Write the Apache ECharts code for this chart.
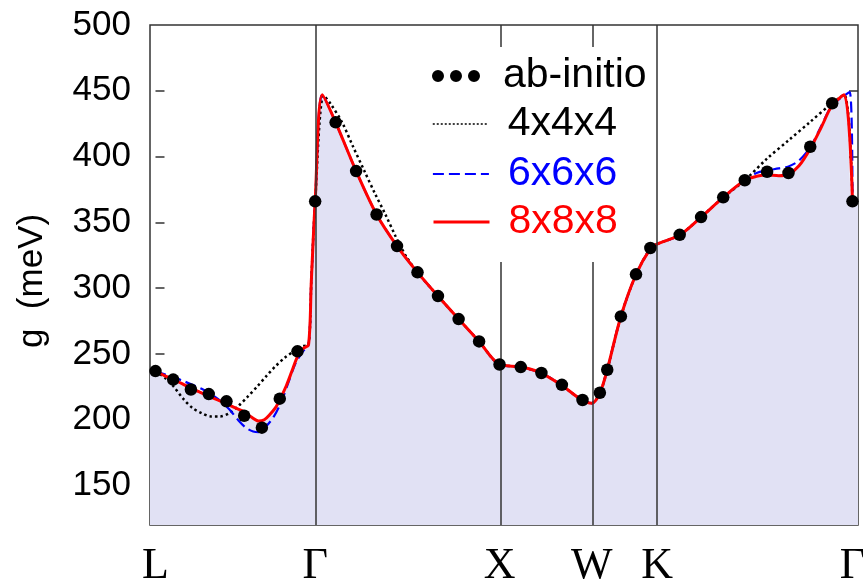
<!DOCTYPE html>
<html>
<head>
<meta charset="utf-8">
<title>g (meV) along L-Γ-X-W-K-Γ</title>
<script src="https://cdn.jsdelivr.net/npm/echarts@6/dist/echarts.min.js"></script>
<style>
  html, body { margin: 0; padding: 0; background: #fff; }
  #chart { width: 863px; height: 580px; }
</style>
</head>
<body>
<div id="chart"></div>
<script>
// High-symmetry points along the k-path (path length units)
const kTicks = [0, 0.866, 1.866, 2.366, 2.720, 3.780];
const kNames = ['L', 'Γ', 'X', 'W', 'K', 'Γ'];
const yTickValues = [150, 200, 250, 300, 350, 400, 450];
const yLabelValues = [150, 200, 250, 300, 350, 400, 450, 500];
const yTitle = 'g  (meV)';

// ab-initio points
const abK = [0.000, 0.096, 0.192, 0.289, 0.385, 0.481, 0.577, 0.674, 0.770, 0.866,
             0.977, 1.088, 1.199, 1.310, 1.421, 1.532, 1.644, 1.755, 1.866,
             1.981, 2.093, 2.204, 2.316, 2.410, 2.450, 2.524, 2.606, 2.684,
             2.843, 2.959, 3.079, 3.196, 3.317, 3.433, 3.551, 3.670, 3.780];
const abG = [237, 230.5, 223, 219.5, 214, 203, 194, 216, 252, 366,
             426, 389, 356, 332, 312, 294, 276.5, 259.5, 242,
             240, 235.5, 226.5, 215, 220.5, 238, 278.5, 310.5, 330.5,
             340.5, 354, 369, 382, 388.5, 387.5, 407.5, 440.5, 366];

// 8x8x8 interpolation
const k888 = [0, 0.048, 0.096, 0.144, 0.192, 0.240, 0.289, 0.337, 0.385, 0.433, 0.481, 0.52, 0.559, 0.59, 0.62, 0.65, 0.677, 0.71, 0.74, 0.77, 0.80, 0.83, 0.845, 0.866, 0.905,
              0.977, 1.088, 1.199, 1.310, 1.421, 1.532, 1.644, 1.755, 1.866,
              1.977, 2.088, 2.199, 2.310, 2.366, 2.410, 2.450, 2.524, 2.606, 2.684, 2.720,
              2.843, 2.959, 3.079, 3.196, 3.26, 3.317, 3.38, 3.433, 3.49, 3.551, 3.61, 3.670, 3.735, 3.780];
const g888 = [237, 233.5, 230.5, 227.5, 224, 221, 218, 215, 212, 209, 206, 202, 199, 200, 204, 209, 216, 226, 237, 248, 254, 257, 305, 366, 447,
              426, 389, 356, 332, 312, 294, 276.5, 259.5, 242,
              240.2, 235.7, 226.6, 215.2, 212.6, 220.3, 238, 278.5, 310.4, 330.1, 333.5,
              340.4, 354, 369, 382, 385, 386, 385.5, 386.5, 393, 406, 422, 439, 447, 366];

// 6x6x6 interpolation
const k666 = [0, 0.05, 0.1, 0.15, 0.2, 0.25, 0.3, 0.35, 0.4, 0.45, 0.49, 0.53, 0.56, 0.6, 0.64, 0.68, 0.72, 0.76, 0.8, 0.83, 0.845, 0.866, 0.905,
              0.977, 1.088, 1.199, 1.310, 1.421, 1.532, 1.644, 1.755, 1.866,
              1.977, 2.088, 2.199, 2.310, 2.366, 2.410, 2.450, 2.524, 2.606, 2.684, 2.720,
              2.843, 2.959, 3.079, 3.196, 3.26, 3.317, 3.38, 3.433, 3.49, 3.551, 3.61, 3.670, 3.765, 3.780];
const g666 = [237, 234.5, 232, 229.5, 226.5, 223.5, 219.5, 214.5, 208, 199.5, 194, 191, 190.5, 195, 202, 213, 228, 243, 252, 257, 305, 366, 447,
              426, 389, 356, 332, 312, 294, 276.5, 259.5, 242,
              240.2, 235.7, 226.6, 215.2, 212.6, 220.3, 238, 278.5, 310.4, 330.1, 333.5,
              340.4, 354, 369, 382, 387.5, 389.5, 391, 392.5, 397, 407, 423, 439, 449, 366];

// 4x4x4 interpolation
const k444 = [0, 0.05, 0.1, 0.15, 0.2, 0.25, 0.3, 0.35, 0.4, 0.45, 0.5, 0.55, 0.6, 0.65, 0.7, 0.75, 0.8, 0.83, 0.845, 0.866, 0.912,
              0.95, 1.012, 1.07, 1.133, 1.19, 1.247, 1.3, 1.329, 1.36, 1.421, 1.532, 1.644, 1.755, 1.866,
              1.977, 2.088, 2.199, 2.310, 2.366, 2.410, 2.450, 2.524, 2.606, 2.684, 2.720,
              2.843, 2.959, 3.079, 3.196, 3.317, 3.433, 3.551, 3.656, 3.735, 3.780];
const g444 = [237, 232, 225, 216, 209, 205, 202.5, 202.5, 205, 210.5, 217.5, 225, 233, 240.5, 247, 252, 256, 257, 305, 366, 446.5,
              440, 426, 408, 389, 372, 356, 340, 332, 324, 312, 294, 276.5, 259.5, 242,
              240.2, 235.7, 226.6, 215.2, 212.6, 220.3, 238, 278.5, 310.4, 330.1, 333.5,
              340.4, 354, 369, 382, 398.5, 412.3, 426.4, 439, 447, 366];

const xMin = -0.0298, xMax = 3.810;
const pairs = (ks, gs) => ks.map((k, i) => [k, gs[i]]);
// shaded region under the 8x8x8 curve, carried out to the frame on both sides
const fillPts = [[xMin, g888[0]]].concat(pairs(k888, g888), [[xMax, g888[g888.length - 1]]]);

const threeDots = 'path://M0,6a6,6 0 1,0 12,0a6,6 0 1,0 -12,0zM18,6a6,6 0 1,0 12,0a6,6 0 1,0 -12,0zM36,6a6,6 0 1,0 12,0a6,6 0 1,0 -12,0z';

const chart = echarts.init(document.getElementById('chart'));
const frameColor = '#333';

// one legend block per entry so each row sits at a fixed height
const legendRows = [
  { name: 'ab-initio', top: 52, color: '#000', item: { icon: threeDots } },
  { name: '4x4x4', top: 100, color: '#000', item: { itemStyle: { opacity: 0 }, lineStyle: { width: 1.5, type: [2, 2] } } },
  { name: '6x6x6', top: 150, color: '#0000ff', item: { itemStyle: { opacity: 0 }, lineStyle: { width: 1.8, type: [11, 5] } } },
  { name: '8x8x8', top: 198, color: '#ff0000', item: { itemStyle: { opacity: 0 }, lineStyle: { width: 3 } } }
];

chart.setOption({
  animation: false,
  backgroundColor: '#fff',
  grid: {
    left: 150, right: 5, top: 25, bottom: 55,
    outerBoundsMode: 'none',
    show: true, borderColor: frameColor, borderWidth: 1.5, backgroundColor: 'transparent'
  },
  graphic: [{
    // white panel behind the legend
    type: 'rect', z: 6, silent: true,
    shape: { x: 425, y: 47, width: 195, height: 215 },
    style: { fill: '#fff' }
  }, {
    // vertical axis title
    type: 'text', z: 6, silent: true,
    x: 32, y: 281, rotation: Math.PI / 2,
    style: { text: yTitle, font: '35px "Liberation Sans"', fill: '#000', align: 'center', verticalAlign: 'middle' }
  }],
  xAxis: {
    type: 'value',
    min: xMin, max: xMax,
    axisLine: { show: false },
    splitLine: { show: false },
    axisTick: { inside: true, length: 8, customValues: [kTicks[0]], lineStyle: { color: frameColor, width: 1.5 } },
    axisLabel: {
      customValues: kTicks,
      formatter: (v) => {
        const i = kTicks.findIndex(t => Math.abs(t - v) < 1e-6);
        return i >= 0 ? kNames[i] : '';
      },
      fontFamily: 'Liberation Serif', fontSize: 44, color: '#000', margin: 19
    }
  },
  yAxis: [{
    type: 'value', min: 120, max: 500, position: 'left',
    axisLine: { show: false },
    splitLine: { show: false },
    axisTick: { inside: true, length: 9, customValues: yTickValues, lineStyle: { color: frameColor, width: 1.5 } },
    axisLabel: { customValues: yLabelValues, fontFamily: 'Liberation Sans', fontSize: 35, color: '#000', margin: 19 }
  }, {
    type: 'value', min: 120, max: 500, position: 'right',
    axisLine: { show: false },
    splitLine: { show: false },
    axisTick: { inside: true, length: 9, customValues: yTickValues, lineStyle: { color: frameColor, width: 1.5 } },
    axisLabel: { show: false }
  }],
  legend: legendRows.map(r => ({
    orient: 'vertical', left: 432, top: r.top, z: 10, padding: 0,
    itemWidth: 56, itemHeight: 12, itemGap: 0,
    selectedMode: false,
    textStyle: { fontFamily: 'Liberation Sans', fontSize: 41, lineHeight: 40, color: r.color, padding: [0, 0, 8, 14] },
    data: [Object.assign({ name: r.name }, r.item)]
  })),
  series: [
    {
      name: 'fill', type: 'line', data: fillPts,
      smooth: 0.3, symbol: 'none', silent: true, z: 1,
      lineStyle: { width: 0, opacity: 0 },
      areaStyle: { color: '#e1e1f4', opacity: 1 }
    },
    {
      name: 'path', type: 'line', data: [], z: 2, silent: true,
      markLine: {
        symbol: 'none', silent: true, animation: false,
        label: { show: false },
        lineStyle: { color: frameColor, width: 1.5, type: 'solid' },
        data: kTicks.slice(1, 5).map(v => ({ xAxis: v }))
      }
    },
    {
      name: '4x4x4', type: 'line', data: pairs(k444, g444),
      smooth: 0.3, symbol: 'none', z: 3,
      lineStyle: { color: '#000', width: 2.5, type: [2.5, 3] }, itemStyle: { color: '#000' }
    },
    {
      name: '6x6x6', type: 'line', data: pairs(k666, g666),
      smooth: 0.3, symbol: 'none', z: 3,
      lineStyle: { color: '#0000ff', width: 2.2, type: [11, 5] }, itemStyle: { color: '#0000ff' }
    },
    {
      name: '8x8x8', type: 'line', data: pairs(k888, g888),
      smooth: 0.3, symbol: 'none', z: 4,
      lineStyle: { color: '#ff0000', width: 3 }, itemStyle: { color: '#ff0000' }
    },
    {
      name: 'ab-initio', type: 'scatter', data: pairs(abK, abG),
      symbolSize: 12.5, z: 5,
      itemStyle: { color: '#000', opacity: 1 }
    }
  ]
});
</script>
</body>
</html>
